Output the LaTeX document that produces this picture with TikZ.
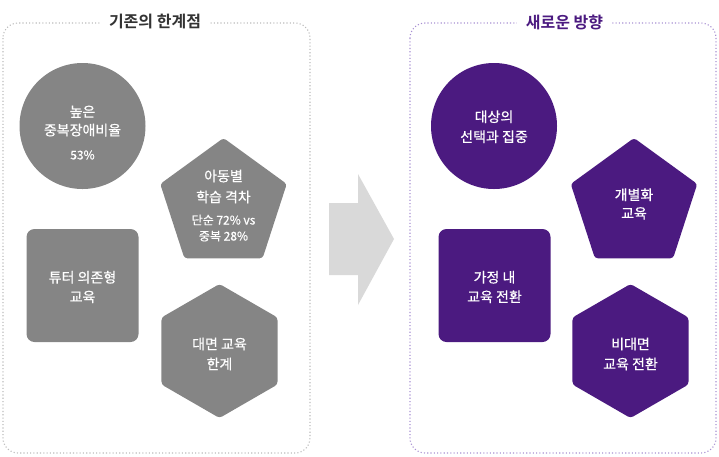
\documentclass[tikz,border=0pt]{standalone}
\usepackage{fontspec}
\setmainfont[FakeBold=0.6]{Noto Sans CJK KR}
\newfontfamily\krbold{Noto Sans CJK KR Bold}
\usetikzlibrary{shapes.geometric}
\definecolor{shapegray}{HTML}{858585}
\definecolor{deeppurple}{HTML}{4B1A80}
\definecolor{dotgray}{HTML}{BBBBBB}
\definecolor{dotpurple}{HTML}{A890D2}
\definecolor{arrowgray}{HTML}{D9D9D9}
\definecolor{titlegray}{HTML}{333333}
\tikzset{
  panel/.style={line width=1.1pt, dash pattern=on 1.1pt off 2.2pt, rounded corners=15pt},
  paneltitle/.style={fill=white, inner xsep=9pt, inner ysep=4pt, font=\krbold\fontsize{16}{18}\selectfont},
  circ/.style={circle, minimum size=126pt, inner sep=0pt},
  penta/.style={regular polygon, regular polygon sides=5, minimum size=133pt, inner sep=0pt, rounded corners=3pt},
  hexa/.style={regular polygon, regular polygon sides=6, shape border rotate=30, minimum size=134pt, inner sep=0pt, rounded corners=3pt},
  sqr/.style={rectangle, minimum width=112pt, minimum height=113pt, inner sep=0pt, rounded corners=8pt},
  lbl/.style={text=white, align=center, inner sep=0pt, font=\fontsize{14}{#1}\selectfont},
  lbl/.default=19.5,
  small/.style={text=white, align=center, inner sep=0pt, font=\fontsize{12}{16}\selectfont},
}
\begin{document}
\begin{tikzpicture}[x=1pt,y=-1pt]
\useasboundingbox (0,0) rectangle (719,456);

% panels
\draw[panel, dotgray] (3,23) rectangle (310,453);
\draw[panel, dotpurple] (410,23) rectangle (716,453);
\node[paneltitle, text=titlegray] (t1) at (155,22) {기존의 한계점};
\node[paneltitle, text=deeppurple] (t2) at (564.5,22) {새로운 방향};

% arrow
\fill[arrowgray] (329,203) -- (358,203) -- (358,174) -- (394,239) -- (358,305) -- (358,275) -- (329,275) -- cycle;

% left shapes
\node[circ, fill=shapegray] (c1) at (82.5,126) {};
\node[penta, fill=shapegray] (p1) at (223.5,204.5) {};
\node[sqr, fill=shapegray] (s1) at (82.5,285.5) {};
\node[hexa, fill=shapegray] (h1) at (219.5,351) {};

\node[lbl=18.5] (c1t) at (82.5,121) {높은\\중복장애비율};
\node[small] (c1s) at (82.5,155) {53\%};
\node[lbl=21] (p1t) at (223.5,186.5) {아동별\\학습 격차};
\node[small] (p1s) at (223.5,228) {단순 72\% vs\\중복 28\%};
\node[lbl=19.5] (s1t) at (82.5,287) {튜터 의존형\\교육};
\node[lbl=20] (h1t) at (219.5,354) {대면 교육\\한계};

% right shapes
\node[circ, fill=deeppurple] (c2) at (494,126) {};
\node[penta, fill=deeppurple] (p2) at (634,204.5) {};
\node[sqr, fill=deeppurple] (s2) at (494.5,285.5) {};
\node[hexa, fill=deeppurple] (h2) at (630.5,351) {};

\node[lbl=20] (c2t) at (494,126.7) {대상의\\선택과 집중};
\node[lbl=18.5] (p2t) at (634,204) {개별화\\교육};
\node[lbl=19.5] (s2t) at (494.5,287) {가정 내\\교육 전환};
\node[lbl=20] (h2t) at (630.5,354) {비대면\\교육 전환};
\end{tikzpicture}
\end{document}
